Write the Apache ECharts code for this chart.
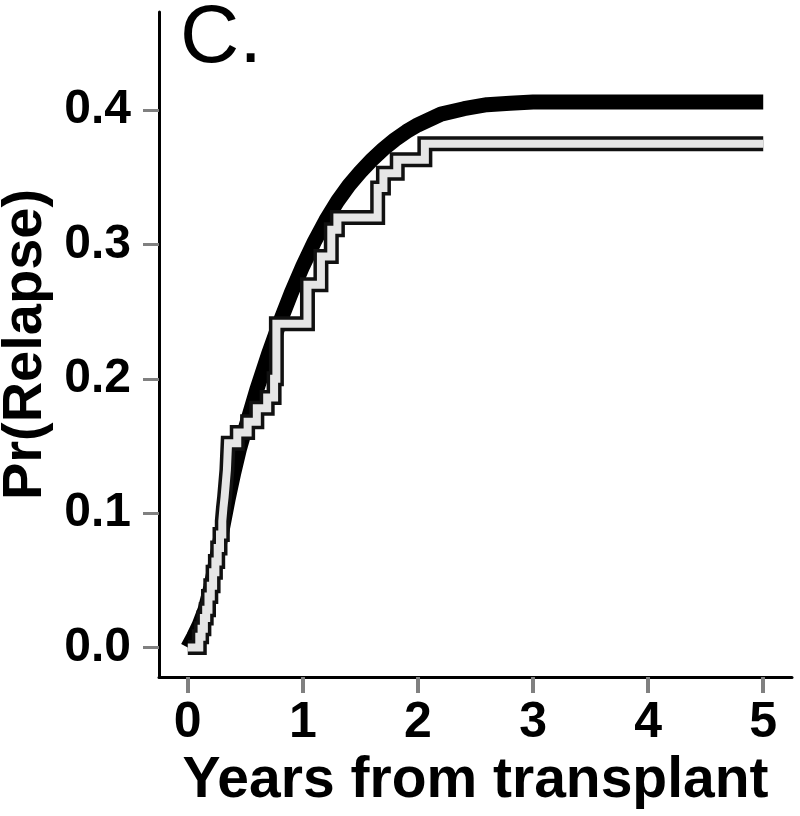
<!DOCTYPE html>
<html>
<head>
<meta charset="utf-8">
<script src="https://cdn.jsdelivr.net/npm/echarts@6/dist/echarts.min.js"></script>
<style>
html,body{margin:0;padding:0;background:#fff;}
#chart{width:800px;height:816px;}
</style>
</head>
<body>
<div id="chart"></div>
<script>
// Smooth (model-based) cumulative incidence curve
const smoothYears = [0, 0.05, 0.1, 0.15, 0.2, 0.25, 0.3, 0.35, 0.4, 0.45, 0.5, 0.6, 0.7, 0.8, 0.9, 1.0, 1.1, 1.2, 1.3, 1.4, 1.5, 1.6, 1.7, 1.8, 1.9, 2.0, 2.2, 2.4, 2.6, 2.8, 3.0, 5.0];
const smoothValues = [0, 0.008, 0.017, 0.028, 0.045, 0.066, 0.088, 0.11, 0.13, 0.148, 0.163, 0.192, 0.218, 0.242, 0.264, 0.284, 0.302, 0.318, 0.332, 0.344, 0.354, 0.363, 0.371, 0.378, 0.384, 0.389, 0.397, 0.401, 0.404, 0.405, 0.406, 0.406];

// Empirical (step) cumulative incidence: jump times and new values
const stepYears = [0, 0.10, 0.12, 0.14, 0.16, 0.18, 0.20, 0.22, 0.24, 0.26, 0.28, 0.30, 0.31, 0.32, 0.33, 0.34, 0.345, 0.35, 0.43, 0.52, 0.60, 0.69, 0.75, 0.77, 1.04, 1.157, 1.247, 1.30, 1.65, 1.70, 1.82, 2.06, 5.0];
const stepValues = [0, 0.008, 0.014, 0.022, 0.028, 0.038, 0.046, 0.056, 0.064, 0.074, 0.084, 0.094, 0.104, 0.112, 0.122, 0.132, 0.142, 0.152, 0.160, 0.168, 0.178, 0.186, 0.200, 0.241, 0.270, 0.291, 0.311, 0.320, 0.342, 0.353, 0.363, 0.375, 0.375];

const xTicks = [0, 1, 2, 3, 4, 5];
const yTicks = [0, 0.1, 0.2, 0.3, 0.4];

const panelLabel = 'C.';
const xTitle = 'Years from transplant';
const yTitle = 'Pr(Relapse)';

const FONT = '"Liberation Sans", Arial, Helvetica, sans-serif';

const smoothData = smoothYears.map((t, i) => [t, smoothValues[i]]);
const stepData = stepYears.map((t, i) => [t, stepValues[i]]);

const chart = echarts.init(document.getElementById('chart'), null, {renderer: 'canvas'});
chart.setOption({
  animation: false,
  backgroundColor: '#fff',
  title: {
    text: panelLabel,
    left: 180, top: -2, padding: 0,
    textStyle: {fontFamily: FONT, fontSize: 82, fontWeight: 'normal', color: '#000'}
  },
  grid: {left: 159, right: 8, top: 12, bottom: 139, containLabel: false, outerBoundsMode: 'none'},
  xAxis: {
    type: 'value', min: -0.25, max: 5.25,
    name: xTitle, nameLocation: 'middle', nameGap: 58,
    nameTextStyle: {fontFamily: FONT, fontSize: 57, fontWeight: 'bold', color: '#000'},
    axisLine: {show: true, onZero: false, lineStyle: {color: '#000', width: 3}},
    axisTick: {show: true, customValues: xTicks, length: 16, lineStyle: {color: '#808080', width: 4}},
    axisLabel: {customValues: xTicks, margin: 21, fontFamily: FONT, fontSize: 50, fontWeight: 'bold', color: '#000'},
    splitLine: {show: false}
  },
  yAxis: {
    type: 'value', min: -0.022, max: 0.473,
    name: yTitle, nameLocation: 'middle', nameGap: 98, nameRotate: 90,
    nameTextStyle: {fontFamily: FONT, fontSize: 56, fontWeight: 'bold', color: '#000'},
    axisLine: {show: true, onZero: false, lineStyle: {color: '#000', width: 3}},
    axisTick: {show: true, customValues: yTicks, length: 16, lineStyle: {color: '#808080', width: 3}},
    axisLabel: {customValues: yTicks, margin: 28, fontFamily: FONT, fontSize: 48, fontWeight: 'bold', color: '#000',
      formatter: v => v.toFixed(1)},
    splitLine: {show: false}
  },
  series: [
    {
      type: 'line', data: smoothData, showSymbol: false, smooth: false,
      lineStyle: {color: '#000', width: 15, cap: 'butt', join: 'round'}, z: 2
    },
    {
      type: 'line', data: stepData, showSymbol: false, step: 'end',
      lineStyle: {color: '#111', width: 15, cap: 'butt', join: 'miter'}, z: 3
    },
    {
      type: 'line', data: stepData, showSymbol: false, step: 'end',
      lineStyle: {color: '#e6e6e6', width: 8, cap: 'butt', join: 'miter'}, z: 4
    }
  ]
});
</script>
</body>
</html>
